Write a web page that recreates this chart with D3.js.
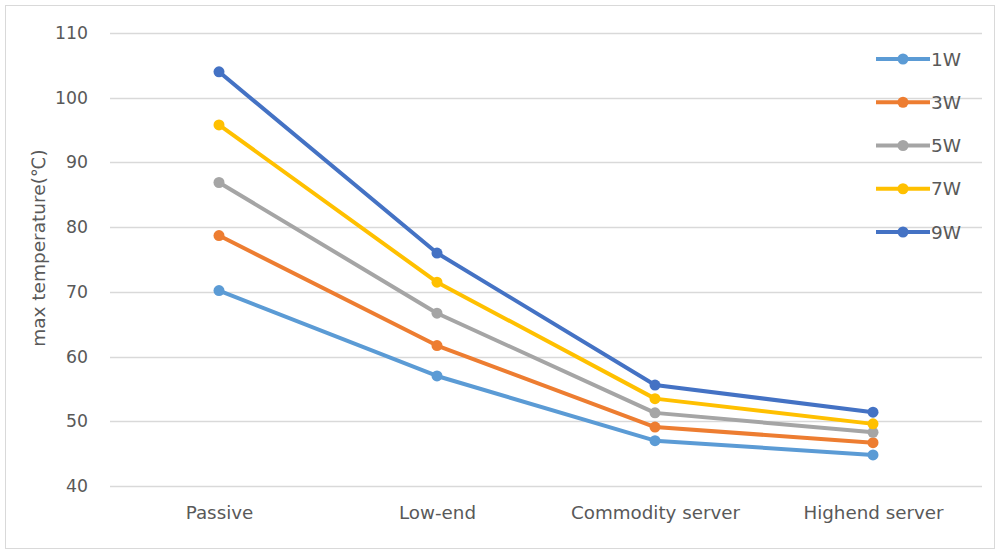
<!DOCTYPE html>
<html>
<head>
<meta charset="utf-8">
<script src="https://cdn.jsdelivr.net/npm/d3@7/dist/d3.min.js"></script>
<style>
  html, body { margin: 0; padding: 0; background: #fff; }
  svg { display: block; }
  text { font-family: "DejaVu Sans", sans-serif; fill: #595959; }
</style>
</head>
<body>
<svg id="chart" width="1000" height="554"></svg>
<script>
// Server classes along the x axis
const categories = ["Passive", "Low-end", "Commodity server", "Highend server"];
// Chip power levels (legend)
const seriesNames = ["1W", "3W", "5W", "7W", "9W"];
// Max temperature (°C) per power level, one value per category
const values1W = [70.2, 57.0, 47.0, 44.8];
const values3W = [78.7, 61.7, 49.1, 46.7];
const values5W = [86.9, 66.7, 51.3, 48.3];
const values7W = [95.8, 71.5, 53.5, 49.6];
const values9W = [104.0, 76.0, 55.6, 51.4];
const seriesColors = ["#5B9BD5", "#ED7D31", "#A5A5A5", "#FFC000", "#4472C4"];
const yTicks = [40, 50, 60, 70, 80, 90, 100, 110];
const yLabel = "max temperature(℃)";

const series = [values1W, values3W, values5W, values7W, values9W].map((v, i) => ({
  name: seriesNames[i], color: seriesColors[i], values: v
}));

const svg = d3.select("#chart");
const W = 1000, H = 554;

// outer chart frame
svg.append("rect")
  .attr("x", 5.5).attr("y", 5.5).attr("width", W - 11).attr("height", H - 11)
  .attr("fill", "#fff").attr("stroke", "#d9d9d9").attr("stroke-width", 1);

const plot = { left: 110, right: 982, top: 33, bottom: 486 };

const x = d3.scalePoint().domain(categories)
  .range([plot.left, plot.right]).padding(0.5);
const y = d3.scaleLinear().domain([40, 110]).range([plot.bottom, plot.top]);

// horizontal gridlines
svg.append("g").selectAll("line").data(yTicks).join("line")
  .attr("x1", plot.left).attr("x2", plot.right)
  .attr("y1", d => Math.round(y(d)) + 0.5).attr("y2", d => Math.round(y(d)) + 0.5)
  .attr("stroke", "#d9d9d9").attr("stroke-width", 1.3);

// y axis tick labels
const yAxis = d3.axisLeft(y).tickValues(yTicks).tickSize(0).tickPadding(0);
const gy = svg.append("g").attr("transform", `translate(${plot.left - 22},0)`).call(yAxis);
gy.select(".domain").remove();
gy.selectAll("text").attr("font-size", 17.3).attr("font-family", "DejaVu Sans").attr("fill", "#595959");

// x axis category labels
const xAxis = d3.axisBottom(x).tickSize(0).tickPadding(0);
const gx = svg.append("g").attr("transform", `translate(0,${plot.bottom + 20})`).call(xAxis);
gx.select(".domain").remove();
gx.selectAll("text").attr("font-size", 18.3).attr("font-family", "DejaVu Sans").attr("fill", "#595959");

// y axis title
svg.append("text")
  .attr("transform", `translate(45,248) rotate(-90)`)
  .attr("text-anchor", "middle")
  .attr("font-size", 18.5)
  .text(yLabel);

// series lines and markers
const line = d3.line().x((d, i) => x(categories[i])).y(d => y(d));
const gs = svg.append("g").selectAll("g").data(series).join("g");
gs.append("path")
  .attr("d", d => line(d.values))
  .attr("fill", "none")
  .attr("stroke", d => d.color)
  .attr("stroke-width", 4)
  .attr("stroke-linejoin", "round")
  .attr("stroke-linecap", "round");
gs.selectAll("circle").data(d => d.values.map((v, i) => ({ v, i, color: d.color }))).join("circle")
  .attr("cx", d => x(categories[d.i]))
  .attr("cy", d => y(d.v))
  .attr("r", 5.5)
  .attr("fill", d => d.color);

// legend
const legendY = d3.scalePoint().domain(seriesNames).range([59, 232]);
const lg = svg.append("g").selectAll("g").data(series).join("g")
  .attr("transform", d => `translate(876,${legendY(d.name)})`);
lg.append("line")
  .attr("x1", 0).attr("x2", 54).attr("y1", 0).attr("y2", 0)
  .attr("stroke", d => d.color).attr("stroke-width", 4);
lg.append("circle").attr("cx", 27).attr("cy", 0).attr("r", 5.5).attr("fill", d => d.color);
lg.append("text")
  .attr("x", 55).attr("y", 0).attr("dy", "0.36em")
  .attr("font-size", 18.5)
  .text(d => d.name);
</script>
</body>
</html>
